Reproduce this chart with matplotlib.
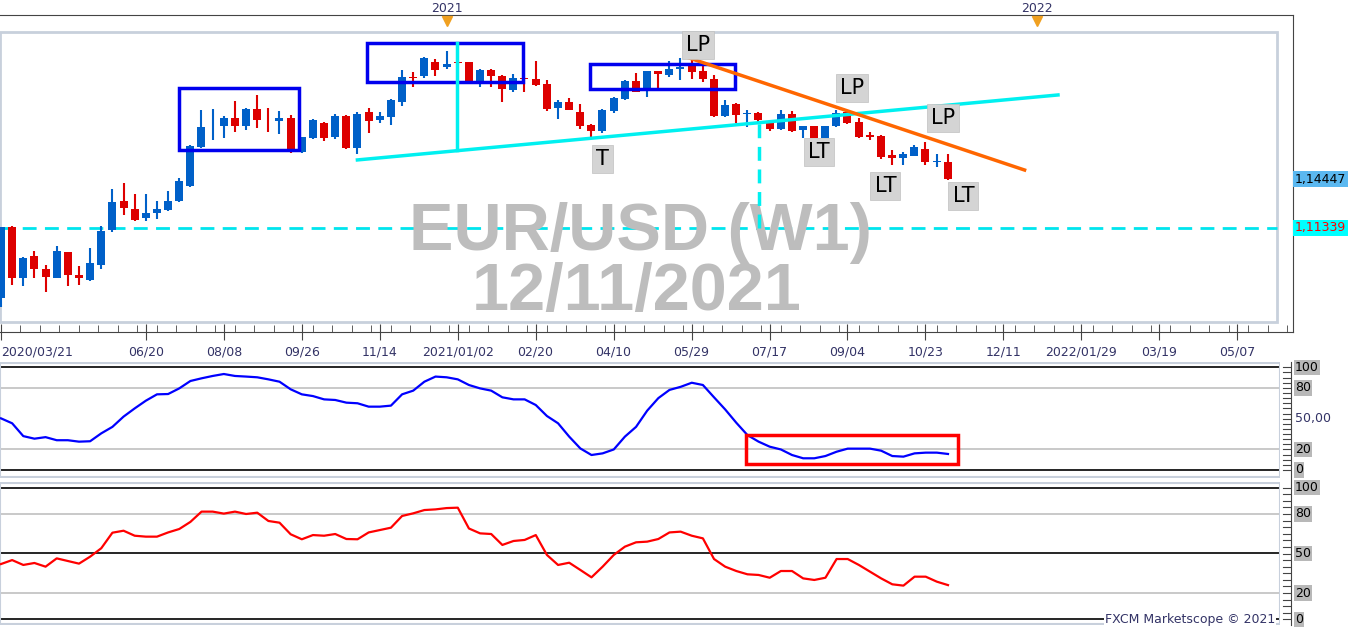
import matplotlib
matplotlib.use("Agg")
import matplotlib.pyplot as plt
from matplotlib.patches import Rectangle
import numpy as np

W, H = 1349, 628
# weekly EUR/USD candles, index 0 = week of 2020/03/21
opens = [1.0691,1.1141,1.0818,1.0958,1.0875,1.0818,1.0982,1.0837,1.0805,1.0900,
         1.1122,1.1306,1.1255,1.1198,1.1230,1.1249,1.1306,1.1401,1.1648,1.1772,
         1.1781,1.1832,1.1781,1.1889,1.1834,1.1813,1.1832,1.1616,1.1705,1.1800,
         1.1711,1.1845,1.1642,1.1870,1.1819,1.1838,1.1933,1.2092,1.2098,1.2187,
         1.2155,1.2187,1.2187,1.2054,1.2136,1.2098,1.2009,1.2085,1.2079,1.2047,
         1.1895,1.1933,1.1870,1.1788,1.1750,1.1876,1.1952,1.2066,1.2022,1.2130,
         1.2105,1.2143,1.2162,1.2130,1.2079,1.1845,1.1921,1.1857,1.1864,1.1800,
         1.1762,1.1857,1.1756,1.1781,1.1705,1.1781,1.1870,1.1807,1.1724,1.1718,
         1.1598,1.1578,1.1591,1.1635,1.1553,1.1553]
highs = [1.1141,1.1145,1.0951,1.0989,1.0900,1.1020,1.0985,1.0894,1.1008,1.1147,
         1.1382,1.1420,1.1350,1.1350,1.1306,1.1369,1.1452,1.1660,1.1883,1.1889,
         1.1845,1.1940,1.1895,1.1978,1.1895,1.1876,1.1851,1.1711,1.1826,1.1807,
         1.1857,1.1850,1.1870,1.1895,1.1870,1.1950,1.2136,1.2124,1.2219,1.2206,
         1.2257,1.2193,1.2190,1.2143,1.2140,1.2102,1.2111,1.2089,1.2193,1.2073,
         1.1946,1.1959,1.1921,1.1791,1.1886,1.1965,1.2070,1.2117,1.2133,1.2133,
         1.2193,1.2212,1.2200,1.2162,1.2105,1.1946,1.1924,1.1883,1.1867,1.1807,
         1.1883,1.1876,1.1784,1.1784,1.1784,1.1883,1.1883,1.1832,1.1743,1.1721,
         1.1629,1.1616,1.1661,1.1680,1.1604,1.1604]
lows = [1.0634,1.0773,1.0767,1.0818,1.0729,1.0815,1.0767,1.0773,1.0800,1.0875,
        1.1109,1.1217,1.1179,1.1179,1.1192,1.1245,1.1300,1.1395,1.1642,1.1692,
        1.1705,1.1743,1.1756,1.1769,1.1743,1.1730,1.1610,1.1610,1.1699,1.1686,
        1.1699,1.1635,1.1604,1.1737,1.1800,1.1788,1.1908,1.2028,1.2085,1.2098,
        1.2143,1.2174,1.2055,1.2028,1.2028,1.1933,1.1997,1.1997,1.2036,1.1876,
        1.1826,1.1880,1.1762,1.1711,1.1737,1.1864,1.1948,1.1994,1.1965,1.2022,
        1.2092,1.2073,1.2079,1.2060,1.1838,1.1838,1.1800,1.1775,1.1800,1.1750,
        1.1758,1.1746,1.1705,1.1702,1.1702,1.1778,1.1797,1.1708,1.1692,1.1572,
        1.1534,1.1534,1.1588,1.1534,1.1521,1.1436]
closes = [1.1141,1.0818,1.0945,1.0875,1.0824,1.0989,1.0837,1.0818,1.0913,1.1115,
          1.1299,1.1261,1.1185,1.1230,1.1255,1.1306,1.1433,1.1654,1.1775,1.1775,
          1.1832,1.1781,1.1889,1.1819,1.1830,1.1832,1.1635,1.1711,1.1819,1.1705,
          1.1845,1.1642,1.1857,1.1813,1.1845,1.1946,1.2092,1.2085,1.2212,1.2136,
          1.2174,1.2181,1.2060,1.2136,1.2098,1.2016,1.2085,1.2079,1.2041,1.1889,
          1.1933,1.1883,1.1781,1.1750,1.1883,1.1959,1.2066,1.1997,1.2130,1.2111,
          1.2143,1.2155,1.2124,1.2079,1.1845,1.1914,1.1851,1.1864,1.1819,1.1762,
          1.1857,1.1750,1.1781,1.1705,1.1781,1.1864,1.1800,1.1711,1.1711,1.1585,
          1.1578,1.1604,1.1648,1.1553,1.1559,1.1445]
osc_blue = [50.3,45.5,33,30.5,32,29,29,27.6,28,35.7,42,52,60,67.5,73.7,74,79.5,86.7,89.3,91.6,
            93.5,91.6,91,90.3,88.3,86,78.6,73.7,72,68.8,68.2,65.6,65,61.7,61.7,62.7,73.7,77.3,86,91,
            90.3,88.3,82.8,79.5,77.3,70.8,68.8,68.8,63.3,52.6,45.5,32.5,21,14.6,16.2,20,32.5,42,57.8,70,
            78,81,85,82.8,70.8,59,46,34,27.6,22.7,20,14.6,11.4,11.4,13.6,17.8,20.8,20.8,20.8,18.8,
            13.6,13,16.2,16.9,16.9,15.6]
osc_red = [42,45,41.3,42.8,40,46.3,44.3,42.3,47.6,54,65.8,67.3,63.5,62.8,62.8,66,68.6,74,81.8,81.8,
           80.3,81.8,80,81,74.7,73.4,64.6,60.8,64,63.5,64.8,61,60.8,66,67.8,69.6,78.5,80.5,83,83.5,
           84.5,84.8,69,65.3,64.8,56.5,59.5,60.3,64,48.9,41.3,43,37.5,31.9,40,48.9,55.2,58.5,59,61,
           66,66.6,63.5,61.5,45.8,40,36.7,34.2,33.7,31.6,36.7,36.7,31.1,29.9,31.6,45.8,45.8,41.3,36.2,31.1,
           26.6,25.6,32.4,32.4,28.6,26]
tick_idx = [0,13,20,27,34,41,48,55,62,69,76,83,90,97,104,111]
tick_labels = ["2020/03/21","06/20","08/08","09/26","11/14","2021/01/02","02/20","04/10","05/29",
               "07/17","09/04","10/23","12/11","2022/01/29","03/19","05/07"]
support_level = 1.11339
last_price = 1.14447

BLUE, RED = "#0060c8", "#dd0000"
TXT = "#333366"

def rect(top, bottom, left, right):
    return [left / W, 1 - bottom / H, (right - left) / W, (bottom - top) / H]

fig = plt.figure(figsize=(W / 100, H / 100), dpi=100)
ax = fig.add_axes(rect(15, 332, 0, 1293))
ax2 = fig.add_axes(rect(362, 478, 0, 1280))
ax3 = fig.add_axes(rect(482, 625, 0, 1280))

n = len(opens)
x = np.arange(n)
xl = (-0.09, 116.0)
ax.set_xlim(*xl)
ax.set_ylim(1.0475, 1.2485)
for i in range(n):
    o, h, l, c = opens[i], highs[i], lows[i], closes[i]
    col = BLUE if c >= o else RED
    ax.vlines(i, l, h, color=col, lw=1.5, zorder=3)
    b = max(abs(c - o), 0.00025)
    ax.add_patch(Rectangle((i - 0.36, min(o, c)), 0.72, b, color=col, zorder=3, lw=0))

# inner frame
ax.add_patch(Rectangle((0, 0.03), 1277 / 1293, 0.917, transform=ax.transAxes, fill=False,
                       ec="#c8d0dc", lw=2, zorder=1))
ax.axhline(support_level, xmin=0, xmax=1277 / 1293, color="#00e5ee", lw=2, ls=(0, (5, 3)), zorder=2)
# boxes
for (a, b, lo, hi) in [(16.0, 26.8, 1.1629, 1.2022), (32.9, 46.9, 1.2060, 1.2307), (52.9, 65.9, 1.2016, 1.2174)]:
    ax.add_patch(Rectangle((a, lo), b - a, hi - lo, fill=False, ec="#0000ee", lw=2.5, zorder=4))
ax.plot([32.0, 94.9], [1.1566, 1.1978], color="#00f0f0", lw=2.5, zorder=4)
ax.plot([40.9, 40.9], [1.1629, 1.2307], color="#00f0f0", lw=2.5, zorder=4)
ax.plot([68.1, 68.1], [1.1134, 1.1807], color="#00f0f0", lw=2.5, ls=(0, (4, 2.5)), zorder=4)
ax.plot([61.8, 91.9], [1.2212, 1.1502], color="#ff6600", lw=2.5, zorder=4)
for (t, xi, yi) in [("LP", 62.6, 1.2295), ("LP", 76.4, 1.2022), ("LP", 84.6, 1.1832), ("T", 54.0, 1.1572),
                    ("LT", 73.4, 1.1616), ("LT", 79.4, 1.1401), ("LT", 86.4, 1.1337)]:
    ax.text(xi, yi, t, fontsize=15, ha="center", va="center", zorder=6,
            bbox=dict(boxstyle="square,pad=0.2", fc="#d4d4d4", ec="#c0c0c0", lw=0.5))
ax.text(57.4, 1.1146, "EUR/USD (W1)", fontsize=48, fontweight="bold", color="#bdbdbd",
        family="Liberation Sans", ha="center", va="center_baseline", zorder=2)
ax.text(57.1, 1.0765, "12/11/2021", fontsize=48, fontweight="bold", color="#bdbdbd",
        family="Liberation Sans", ha="center", va="center_baseline", zorder=2)

for a in (ax, ax2, ax3):
    for s in a.spines.values():
        s.set_visible(False)
    a.set_yticks([])
ax.spines["bottom"].set_visible(True)
ax.spines["top"].set_visible(True)
ax.spines["right"].set_visible(True)
for s in ("bottom", "top", "right"):
    ax.spines[s].set_color("#444444")
ax.set_xticks(tick_idx)
ax.set_xticklabels(tick_labels, fontsize=9, color=TXT)
ax.get_xticklabels()[0].set_ha("left")
ax.set_xticks(np.arange(0, 116, 1.75), minor=True)
ax.tick_params(axis="x", which="major", direction="inout", length=12, color="#444444", pad=4)
ax.tick_params(axis="x", which="minor", direction="in", length=5, color="#444444")
# year markers on top
for xi, lab in [(40.0, "2021"), (93.0, "2022")]:
    ax.plot(xi, 1.2445, marker="v", color="#f0a020", ms=7, clip_on=False, zorder=5)
    fig.text((1 + 11.14 * xi) / W, 1 - 8 / H, lab, fontsize=9, color=TXT, ha="center", va="center")
# price labels
fig.text(1295 / W, 1 - 179 / H, "1,14447", fontsize=9, color="black", va="center",
         bbox=dict(boxstyle="square,pad=0.15", fc="#5bb8f0", ec="none"))
fig.text(1295 / W, 1 - 228 / H, "1,11339", fontsize=9, color="red", va="center",
         bbox=dict(boxstyle="square,pad=0.15", fc="#00ffff", ec="none"))

xl2 = (-0.09, 114.8)
for a, data, col, ylim, lines, labs in [
    (ax2, osc_blue, "#0000ff", (-7.8, 105.2), [(100, "k"), (80, "#c0c0c0"), (20, "#c0c0c0"), (0, "k")],
     [(100, "100", True), (80, "80", True), (50, "50,00", False), (20, "20", True), (0, "0", True)]),
    (ax3, osc_red, "#ff0000", (-4.3, 104.3), [(100, "k"), (80, "#c0c0c0"), (50, "k"), (20, "#c0c0c0"), (0, "k")],
     [(100, "100", True), (80, "80", True), (50, "50", True), (20, "20", True), (0, "0", True)])]:
    a.set_xlim(*xl2)
    a.set_ylim(*ylim)
    a.set_xticks([])
    for v, c in lines:
        a.axhline(v, color=c, lw=1.2, zorder=1)
    a.plot(x, data, color=col, lw=1.6, zorder=3)
    a.add_patch(Rectangle((0, 0.005), 1, 0.99, transform=a.transAxes, fill=False, ec="#c8d0dc", lw=1.5))
    for v, t, box in labs:
        yy = a.transData.transform((0, v))[1] / (H)
        fig.text(1295 / W, yy, t, fontsize=9, color="black" if box else TXT, va="center",
                 bbox=dict(boxstyle="square,pad=0.1", fc="#b8b8b8", ec="none") if box else None)
    for v in np.arange(0, 101, 5):
        yy = a.transData.transform((0, v))[1] / H
        fig.add_artist(plt.Line2D([1283 / W, 1290 / W], [yy, yy], color="#444444", lw=0.8))
ax2.add_patch(Rectangle((66.9, 5.9), 19.0, 28.4, fill=False, ec="#ff0000", lw=2.5, zorder=4))
fig.add_artist(plt.Line2D([1291 / W, 1291 / W], [1 - 362 / H, 1 - 625 / H], color="#444444", lw=0.8))
fig.text(1275 / W, 1 - 619 / H, "FXCM Marketscope © 2021", fontsize=9, color=TXT, ha="right", va="center",
         bbox=dict(boxstyle="square,pad=0.05", fc="white", ec="none"))

fig.savefig("out.png", dpi=100)
